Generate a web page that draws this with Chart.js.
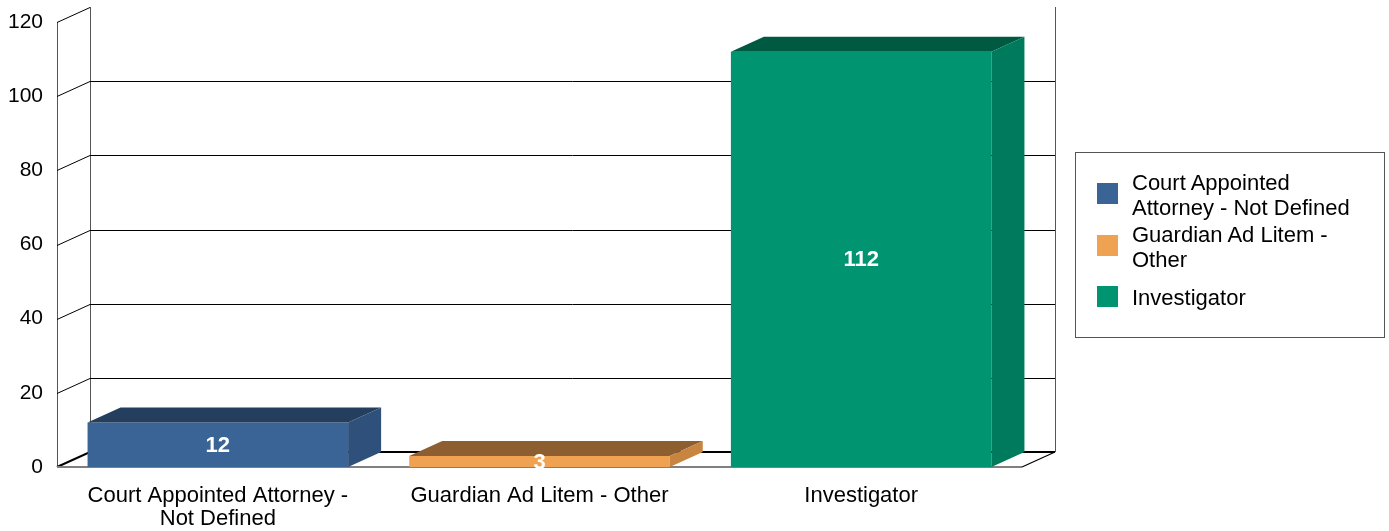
<!DOCTYPE html>
<html>
<head>
<meta charset="utf-8">
<script src="https://cdn.jsdelivr.net/npm/chart.js@4.4.0/dist/chart.umd.min.js"></script>
<style>
  html, body { margin: 0; padding: 0; background: #fff; }
  #wrap { position: relative; width: 1389px; height: 531px; }
  #c { position: absolute; left: 0; top: 0; }
  #legend { position: absolute; left: 1075px; top: 152px; width: 308px; height: 184px;
            border: 1px solid #555; font-family: "Liberation Sans", Arial, sans-serif;
            font-size: 22px; color: #000; box-sizing: content-box; }
  .sw { position: absolute; left: 21px; width: 21px; height: 21px; }
  .tx { position: absolute; left: 56px; width: 240px; line-height: 25px; white-space: nowrap; }
</style>
</head>
<body>
<div id="wrap">
  <canvas id="c" width="1389" height="531"></canvas>
  <div id="legend"></div>
</div>
<script>
// ---- data ----
const categories = [["Court Appointed Attorney -", "Not Defined"], "Guardian Ad Litem - Other", "Investigator"];
const legendLines = [["Court Appointed", "Attorney - Not Defined"], ["Guardian Ad Litem -", "Other"], ["Investigator"]];
const values = [12, 3, 112];
const yTicks = [0, 20, 40, 60, 80, 100, 120];
const frontColors = ["#3B6496", "#EEA252", "#009470"];
const topColors = ["#243E5E", "#8C5E30", "#005A42"];
const sideColors = ["#2F507A", "#C78540", "#007A5C"];

const DX = 33, DY = -15;
const FONT = '"Liberation Sans", Arial, sans-serif';

// legend (HTML)
const legendEl = document.getElementById('legend');
const itemTops = [30, 82, 133];
legendLines.forEach((lines, i) => {
  const sq = document.createElement('div');
  sq.className = 'sw';
  sq.style.background = frontColors[i];
  const n = lines.length;
  const textTop = itemTops[i] + 11.5 - n * 12.5;
  sq.style.top = (itemTops[i]) + 'px';
  const tx = document.createElement('div');
  tx.className = 'tx';
  tx.style.top = textTop + 'px';
  tx.innerHTML = lines.join('<br>');
  legendEl.appendChild(sq);
  legendEl.appendChild(tx);
});

const box3d = {
  id: 'box3d',
  beforeDatasetsDraw(chart) {
    const ctx = chart.ctx;
    const ca = chart.chartArea;
    const y = chart.scales.y;
    const xL = ca.left, xR = ca.right;
    const y0 = y.getPixelForValue(0);
    const yTop = y.getPixelForValue(yTicks[yTicks.length - 1]);
    ctx.save();
    // back wall verticals
    ctx.strokeStyle = '#555';
    ctx.lineWidth = 1;
    ctx.beginPath();
    ctx.moveTo(xL + DX + 0.5, yTop + DY);
    ctx.lineTo(xL + DX + 0.5, y0 + DY);
    ctx.moveTo(xR + DX + 0.5, yTop + DY);
    ctx.lineTo(xR + DX + 0.5, y0 + DY);
    // front left axis
    ctx.moveTo(xL + 0.5, yTop);
    ctx.lineTo(xL + 0.5, y0);
    ctx.stroke();
    // gridlines on back wall + diagonal ticks
    ctx.strokeStyle = '#000';
    yTicks.forEach(v => {
      if (v === 0) return;
      const yf = Math.round(y.getPixelForValue(v)) + 0.5;
      const yb = yf + DY;
      ctx.beginPath();
      ctx.moveTo(xL, yf);
      ctx.lineTo(xL + DX, yb);
      if (v !== yTicks[yTicks.length - 1]) {
        ctx.lineTo(xR + DX, yb);
      }
      ctx.stroke();
    });
    // floor
    ctx.lineWidth = 2;
    ctx.strokeStyle = '#000';
    ctx.beginPath();
    ctx.moveTo(xL, y0);
    ctx.lineTo(xL + DX, y0 + DY);
    ctx.lineTo(xR + DX, y0 + DY);
    ctx.stroke();
    ctx.lineWidth = 1.2;
    ctx.beginPath();
    ctx.moveTo(xR, y0);
    ctx.lineTo(xR + DX, y0 + DY);
    ctx.stroke();
    ctx.strokeStyle = '#808080';
    ctx.lineWidth = 2;
    ctx.beginPath();
    ctx.moveTo(xL, y0);
    ctx.lineTo(xR, y0);
    ctx.stroke();
    ctx.restore();
  },
  afterDatasetsDraw(chart) {
    const ctx = chart.ctx;
    const meta = chart.getDatasetMeta(0);
    ctx.save();
    meta.data.forEach((bar, i) => {
      const l = bar.x - bar.width / 2, r = bar.x + bar.width / 2;
      const t = bar.y, b = bar.base;
      // top face
      ctx.fillStyle = topColors[i];
      ctx.beginPath();
      ctx.moveTo(l, t);
      ctx.lineTo(l + DX, t + DY);
      ctx.lineTo(r + DX, t + DY);
      ctx.lineTo(r, t);
      ctx.closePath();
      ctx.fill();
      // side face
      ctx.fillStyle = sideColors[i];
      ctx.beginPath();
      ctx.moveTo(r, t);
      ctx.lineTo(r + DX, t + DY);
      ctx.lineTo(r + DX, b + DY);
      ctx.lineTo(r, b);
      ctx.closePath();
      ctx.fill();
    });
    // value labels
    ctx.fillStyle = '#fff';
    ctx.font = 'bold 22px ' + FONT;
    ctx.textAlign = 'center';
    ctx.textBaseline = 'middle';
    meta.data.forEach((bar, i) => {
      ctx.fillText(String(values[i]), bar.x, (bar.y + bar.base) / 2 + 1);
    });
    ctx.restore();
  }
};

new Chart(document.getElementById('c'), {
  type: 'bar',
  data: {
    labels: categories,
    datasets: [{
      data: values,
      backgroundColor: frontColors,
      borderWidth: 0,
      barPercentage: 0.81,
      categoryPercentage: 1.0
    }]
  },
  options: {
    responsive: false,
    animation: false,
    events: [],
    layout: { padding: { left: 0, right: 367, top: 22, bottom: 0 } },
    plugins: { legend: { display: false }, tooltip: { enabled: false } },
    scales: {
      x: {
        grid: { display: false, drawTicks: false },
        border: { display: false },
        ticks: { color: '#000', font: { family: FONT, size: 22, lineHeight: 1.05 }, padding: 17, maxRotation: 0, autoSkip: false },
        afterFit(s) { s.height = 64; s.paddingLeft = 0; s.paddingRight = 0; }
      },
      y: {
        min: 0, max: 120,
        grid: { display: false, drawTicks: false },
        border: { display: false },
        ticks: { stepSize: 20, color: '#000', font: { family: FONT, size: 21 }, padding: 14 },
        afterFit(s) { s.width = 57; s.paddingTop = 0; s.paddingBottom = 0; }
      }
    }
  },
  plugins: [box3d]
});
</script>
</body>
</html>
